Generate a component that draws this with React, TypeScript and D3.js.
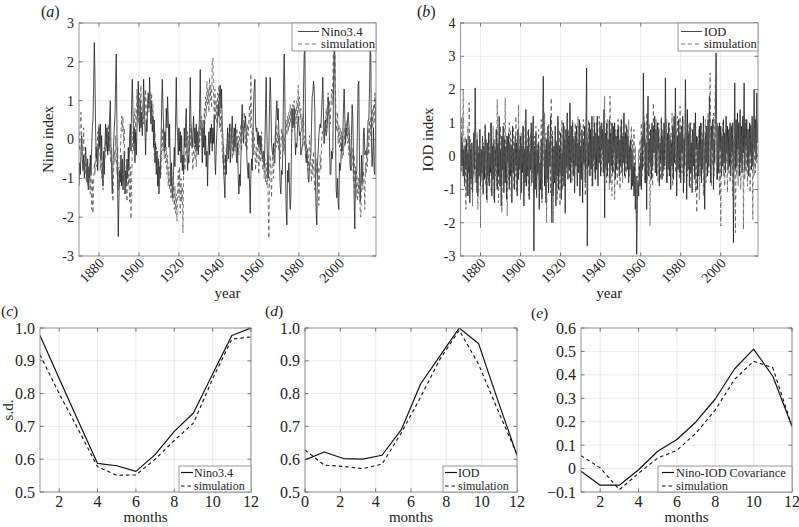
import React from 'react';
import * as d3 from 'd3';

// ---------------- data ----------------
const START_YEAR = 1870;
const SAMPLES_PER_YEAR = 3;

// Observed Nino3.4 index (approx., 3 samples per year, 1870-2018)
const nino34 = [
  -1.2,-.6,-.9, -.3,.1,-.5, -.8,-.4,-1.0, -.6,-.2,-.8, -1.1,-.5,-1.3, -.7,-1.0,-.4, -.9,-.2,.3, .5,1.4,2.5, 1.6,.2,-.5, -.2,-.8,-.3,
  .3,-.2,.4, -.5,.1,-.8, -1.2,-.3,-.9, -.1,.4,-.2, .3,-.4,.2, -.3,.6,1.0, -.2,-.9,-1.4, -.6,-.1,.3, .6,1.5,2.2, .2,-1.3,-2.5,
  -1.5,-.8,-1.1, -.4,-1.2,-.5, -1.3,-.9,-.3, -1.4,-.8,-1.2, -.5,-1.0,-.2, -.8,.1,.4, -.3,.9,1.55, .8,-.1,.3, -.6,.2,-.4, .2,.9,1.5,
  .6,.2,1.0, .3,.7,.1, .6,1.55,1.0, .3,-.4,.5, .2,.9,1.2, .8,1.6,.9, .4,1.0,.2, .6,-.2,.5, -.6,-.1,-.9, -.3,-1.2,-.5,
  -1.4,-.7,-1.0, -.2,.8,1.55, .9,.3,-.3, .2,-.2,.8, .3,1.1,.5, -.2,.4,-.6, -1.2,-.6,-1.5, -1.3,-.8,-.2, -.7,.5,1.6, .4,.1,-.4,
  .3,-.3,.2, -.6,.1,-.8, -.4,-.9,.3, -.2,.4,.8, -.3,-.8,-.4, -.6,.5,1.6, .5,.1,-.2, .2,.6,-.1, .3,-.2,.4, -.3,.2,-.4,
  .1,.8,1.8, .4,.2,-.6, .3,-.2,.5, -.4,.1,-.7, -.3,-1.2,-.2, .2,-.4,.3, -.1,.4,-.3, .3,-.1,.6, -.5,-.9,-.2, .2,.5,.9,
  .6,1.2,1.4, .8,1.3,.3, .1,-.8,-1.1, -1.5,-.4,-.9, -.2,.3,-.5, -.1,.4,-.6, -.3,.2,.6, .1,-.3,.3, -.2,.4,-.4, -.6,-.1,-1.0,
  -1.4,-.9,-1.2, -.5,.5,.9, .2,-.1,.4, .3,.6,.2, -.5,-.8,-1.0, -.6,-1.2,-1.9, -.9,-.5,-.8, -.1,.9,1.3, 1.55,.4,.2, .3,-.1,.2,
  -.2,.1,-.3, .1,-.2,-.5, -.4,-.3,-.7, -.1,.8,1.6, .2,-.7,-1.0, -.3,.9,1.6, 1.0,-.1,-.3, -.4,-.1,-.6, -.6,.2,.7, 1.0,.5,.8,
  .2,-.6,-1.2, -1.4,-.8,-.9, -.2,1.3,2.2, 1.2,-.9,-1.8, -2.2,-.8,-1.1, -.6,-1.3,-1.8, -1.5,-.1,.8, .3,.4,.8, .2,-.4,-.1, -.2,.3,.6,
  .4,.1,.2, -.4,-.3,-.2, -.1,1.2,2.2, 2.4,.4,-.6, -.3,-.5,-1.0, -1.1,-.7,-.5, -.4,.3,1.1, 1.2,1.5,1.3, .7,-1.2,-1.9, -2.2,-.6,-.3,
  .1,.3,.4, .3,.7,1.1, 1.6,.6,-.1, .2,.5,.1, .2,.5,1.1, .8,-.1,-.9, -.9,-.3,-.5, -.3,1.3,2.3, 2.2,.2,-1.3, -1.5,-1.0,-1.6,
  -1.8,-.6,-.8, -.6,-.1,-.3, .1,.8,1.3, .6,-.1,.3, .1,.5,.7, .4,.1,-.7, -.8,.1,.9, .6,-.5,-1.5, -2.3,-.8,-.9, -.8,.4,1.4,
  1.5,-.6,-1.6, -1.2,-.4,-1.1, -.8,.2,.3, -.4,-.3,-.3, -.4,.1,.5, .5,1.2,2.3, 2.2,-.2,-.7, -.3,.3,-.8, -.9,.1,1.2,
];

// Simulated Nino index
const ninoSim = [
  .2,-.3,.5, .7,.1,-.4, -.2,.3,-.6, -.9,-.3,-1.1, -.5,-1.2,-.7, -1.3,-.6,-1.4, -.8,-1.8,-1.0, -1.9,-1.1,-.6, -.9,-.2,-.7, -.4,.2,-.3,
  .4,-.1,-.8, -.4,-1.0,-.6, -1.3,-.7,-.2, -.5,.1,-.3, .3,-.1,.4, -.2,.1,-.5, -.6,-.2,-1.1, -1.6,-.8,-.3, -.6,.1,-.4, -.9,-.2,-1.3,
  -.7,-1.2,-.4, .1,.6,.2, .6,-.1,.3, -.8,-1.4,-.9, -1.6,-.6,-1.2, -.9,-1.6,-.7, -2.05,-1.0,-.3, .2,-.3,.4, .8,.2,.5, 1.3,.6,.9,
  .4,1.2,.7, 1.4,.5,.2, .9,.4,1.1, .6,1.3,.8, .3,.9,1.2, .7,1.4,1.0, .5,1.2,.4, .9,.1,-.4, .2,-.6,-.2, -.8,-.3,-1.1,
  -.6,-1.2,-.4, -.9,-.2,.3, -.3,.4,-.5, .1,-.6,-.2, -.9,-.4,-1.2, -.7,-1.3,-.9, -1.5,-.8,-1.0, -1.6,-1.1,-1.8, -1.2,-1.9,-1.4, -2.1,-1.3,-.8,
  -1.5,-.7,-1.9, -1.0,-1.6,-1.2, -2.4,-.9,-.4, -.8,-.2,.3, -.4,.2,-.5, .1,-.3,.4, -.2,.3,-.4, -.8,-.3,.1, -.5,-.1,-.7, -.3,.2,-.2,
  .3,-.2,.5, .1,.6,.2, .5,.1,.8, .4,1.1,.6, 1.5,.9,1.3, .7,1.6,1.0, 1.4,.8,2.0, 2.1,1.2,.6, 1.3,.5,1.0, .4,1.2,.7,
  1.4,.3,.9, .2,.6,-.3, -.6,-.1,-.9, -.4,-.8,-.2, -.6,.1,-.4, .2,-.3,.4, -.1,.3,-.5, .1,-.4,.2, -.3,.1,-.2, .3,-.2,.1,
  -.4,.2,-.1, .4,-.3,.2, .5,.1,.7, .2,-.2,.3, -.3,.4,.1, .5,.9,.3, 1.7,.6,-.2, .3,-.4,.1, -.3,-.8,-.2, -.6,.1,-.4,
  -.9,-.3,-.6, -.2,.2,-.5, -.8,-.3,-1.0, -.5,-1.1,-.6, -1.2,-.7,-1.5, -2.55,-1.0,-.4, -.9,-1.5,-.6, -.3,-1.0,-.5, -.1,.3,-.2, .4,-.1,.2,
  -.3,.1,-.5, -.2,.3,-.1, .2,-.3,.1, -.4,.3,.5, .1,.6,.2, .7,.3,.9, .4,.8,.2, .9,.5,1.0, .3,.8,.4, 1.0,.6,1.4,
  .7,1.1,.5, .8,.2,.6, .3,.7,-.2, .1,-.5,-.1, -.6,-.2,-.8, -.4,.1,-.3, -.7,-1.1,-.5, -.9,-.3,-1.0, -1.3,-.6,-.9, -.5,-1.2,-.7,
  -1.7,-1.0,-.4, -.8,-.1,.2, .1,.4,-.1, .5,.2,.8, .3,.9,1.2, .6,1.0,.4, .8,1.3,.9, 1.6,2.4,1.5, 2.3,1.1,.5, .2,.7,-.1,
  .4,-.2,.3, -.3,.2,-.5, .1,-.4,.3, -.2,.4,.1, .5,-.1,.3, -.4,.2,-.6, -.3,-.8,-.2, -.6,-1.1,-.4, -1.3,-.7,-1.5, -.9,-1.6,-1.0,
  -1.4,-.7,-1.8, -2.0,-1.1,-.6, -1.3,-.8,-1.1, -1.8,-.6,-.9, -.2,-.7,.3, -.4,.5,.1, .6,-.2,.8, .3,.9,.4, 1.2,.5,1.0,
];

// Observed IOD index
const iod = [
  -.8,.6,-.3, .4,-.6,.2, -.9,.3,-.4, .5,-1.2,.1, -.5,.6,-1.4, .2,-.7,.4, -1.1,-.2,.7, -.4,2.05,.3, -.8,.5,-1.2, .1,-.6,.8,
  -.9,.2,-.5, .6,-1.1,.3, -.7,.9,-.2, -1.3,.4,-.6, .7,-.9,.1, -.5,1.0,-1.2, .3,-.7,.5, -1.4,.2,-.3, .8,-1.0,.4, -.6,1.2,-.9,
  .2,-1.5,.6, -.4,.9,-1.1, .5,-.8,.3, -1.3,.6,-.2, .7,-1.0,.4, -.6,.3,-1.4, .9,-.5,.2, -1.0,.6,-.3, .4,-1.2,.8, -.7,.2,-.4,
  .6,-1.1,.3, -.5,.9,-1.5, .2,-.8,1.4, -.9,.3,-.6, .8,-1.3,.1, -.4,1.0,-.8, .5,1.2,-2.85, .3,-1.0,.7, -1.2,.2,-.5, .4,-1.6,-.2,
  -1.0,.5,-1.3, .3,2.4,.6, -.9,.2,-1.4, .5,-.7,.9, -1.1,.4,-.3, 1.2,-.9,-2.0, .6,-1.2,.3, -.8,.9,-1.5, .4,-.6,1.2, -1.0,.3,-.5,
  .7,-1.3,.1, -.6,1.0,-.9, .5,-1.7,.8, -.3,1.3,-.7, .6,-.4,1.6, -.8,.9,-.2, 1.0,-.6,.5, -1.1,.7,-.3, .9,-.9,.4, -.5,1.1,-1.2,
  .3,-.7,.8, -1.4,.5,-.2, .9,-.8,1.0, 2.65,-2.7,.4, -.3,1.0,-.6, .8,-.4,1.2, -.9,.6,-.1, 1.0,-.7,.7, -.4,1.2,-.9, .6,-.2,.9,
  -.6,1.0,.2, .8,-.5,1.4, -1.85,.7,-.3, 1.0,-.6,.5, -.2,1.1,-.8, .7,-.3,1.0, -.5,.9,.1, 1.0,-.7,.6, -.4,.8,-.1, .9,-.6,.5,
  -.3,1.1,-.5, .6,-.2,1.3, -.6,.7,-.1, .9,-.4,.6, -.8,.3,-.4, .5,-1.0,.2, -.9,-.3,-1.2, -.2,-1.6,-.6, -2.95,-1.4,-.8, -1.2,-.3,-.9,
  .1,-1.0,.6, -.4,2.5,.3, 1.0,-.8,.4, -1.6,.7,1.8, -.6,.5,-.2, .8,-.7,1.0, -.3,.9,.1, 1.2,-.5,.8, -.6,1.0,.2, .8,-.9,.4,
  -.2,1.1,-.7, .6,-.4,1.0, -.3,2.35,.5, -.8,.7,-.4, 1.0,-.6,.5, -1.0,.4,-.3, .9,-.7,1.2, -.2,2.05,.3, -1.2,.6,-.4, 1.1,-.5,.7,
  -.8,.9,.1, 1.2,-1.1,.5, -.3,2.3,.8, -1.3,1.4,-.4, .7,-.9,1.0, -.5,.4,-1.1, .8,-.3,1.0, -.7,1.3,.2, .6,-1.0,.4, -.6,.9,-.3,
  1.0,-.8,.5, -.4,1.2,.1, -1.6,.7,-.2, .9,-.6,1.1, -.3,1.8,.6, -.8,.9,.2, 1.1,-1.0,.5, -.2,1.4,3.1, .6,-.7,.9, -.5,1.0,.2,
  .9,-.6,.6, -.3,1.1,-.2, .7,-.5,1.2, .1,.9,-.4, .8,-.3,1.0, -.6,.9,.1, 1.0,-2.6,.5, 2.2,-.4,1.1, -.3,1.3,.2, 1.0,-.6,1.4,
  -.2,.9,-.5, 1.2,.1,2.2, -.4,1.0,.3, 1.1,-.3,.8, -.6,1.0,.1, .9,-.4,1.2, -.3,.6,2.0, .2,1.1,-.1, 1.9,.4,1.0,
];

// Simulated IOD index
const iodSim = [
  .3,-.5,1.2, -.2,2.0,.4, -.9,.6,-1.6, .2,-.4,.9, -1.2,1.6,-.3, .5,-1.0,.3, -1.5,.4,-.6, .8,-.8,.2, -1.1,.7,-1.6, .3,-.5,.8,
  -2.15,.2,-.7, .6,-1.2,.4, -.4,1.0,-.9, .5,-1.4,.2, -.8,.7,-.3, 1.0,-1.1,.4, -.5,.9,-1.3, .3,-.6,.8, -.9,1.7,.2, -1.4,.5,-.6,
  .9,-.3,-1.7, .4,-.9,1.0, -.5,1.75,-.2, .6,-1.8,.3, -.7,1.0,-.4, .8,-1.2,.5, -.3,.9,-1.0, .4,-.6,1.2, -1.1,.3,-.5, 1.55,-.4,.6,
  -1.3,.7,-.2, .9,-1.0,.3, -.6,1.1,-.9, .5,-.3,.8, -1.2,.6,-.4, .7,-.9,.2, -.5,1.0,-1.1, .6,-.2,.9, -1.3,.4,-.6, .8,-1.0,.3,
  -.7,1.1,-1.4, .5,1.9,-.3, 1.3,-.6,.7, -2.0,.4,-.8, 1.0,-.3,.6, -1.1,1.75,-.5, .8,-2.0,.3, -.7,.9,-.2, .5,-1.3,1.0, -.4,.8,-1.5,
  .6,-.3,1.1, -1.0,.7,-.6, .9,-1.75,.4, -.5,1.2,-.2, .8,-.7,1.4, -.3,.9,-.8, 1.1,-.4,.6, -.9,1.0,.1, .7,-.6,1.2, -.4,.8,-1.0,
  1.0,-.2,.6, -.7,1.1,-.3, .5,-1.2,.9, -.4,.7,-.1, 1.1,-.6,.5, -.2,1.0,-.9, .8,-.3,1.2, -.5,.6,.1, 1.0,-.7,.5, -.3,1.2,-.2,
  .7,-.5,1.0, -.1,.9,-.6, 1.8,-.4,.6, -.8,1.1,-.2, .5,-1.0,1.8, -.3,.7,-1.2, 1.0,-.5,.4, -1.3,.8,-.2, .6,-.9,1.1, -.4,.5,-1.0,
  .9,-.3,.7, -.8,1.2,-.1, .6,-.7,1.0, -.5,.8,-.3, 1.1,-.6,.4, -.2,.9,-.7, .5,-.4,.8, -1.0,.3,-1.4, -2.3,-.6,-1.1, .2,-.9,.5,
  -.4,1.0,-.6, .7,-.3,1.2, -.8,.5,-.2, 1.3,-.7,.4, -.5,1.0,-2.1, .6,-.4,.9, -.9,1.6,.1, .7,-.5,1.1, -.2,.8,-.8, 1.0,-.3,.6,
  -.7,1.2,.2, .8,-.6,1.0, -.4,.9,-.1, 1.1,-.8,.5, -.3,1.0,-.6, .7,-.2,1.3, -.9,.6,.1, 1.0,-.5,.8, -.4,1.2,-.2, .9,-.7,1.5,
  -.3,.8,-.5, 1.1,-.2,.6, -.8,1.5,.3, .7,-.6,1.0, -.3,.9,-1.0, 1.0,-.4,.5, -.8,.7,-.1, .9,-1.1,.4, -1.7,.6,-.5, .8,-1.3,.2,
  -.6,1.0,-.3, .7,-1.2,.5, -.4,1.1,-.8, .9,-.2,1.3, -.5,.8,2.5, .4,-.9,1.0, -.3,1.3,-.6, .8,2.3,.2, -.7,1.0,-.2, .6,-1.2,.4,
  -2.1,.7,-.3, 1.0,-.6,.5, -.9,.8,-.2, .6,-1.1,.3, -.5,.9,-.8, .7,-.3,1.0, -1.2,.5,-.4, .8,-2.3,.2, -.6,1.0,-.9, .5,-.4,1.1,
  -1.0,.6,-.2, .9,-2.2,.3, -.7,1.1,-.5, .6,-.9,.8, -.4,.7,-1.1, 1.0,-.3,.5, -1.9,.8,-.6, .9,-.5,1.2, -.2,.7,.4,
];

// Seasonal statistics
const monthsNino = [1, 2, 3, 4, 5, 6, 7, 8, 9, 10, 11, 12];
const ninoSd = [0.977, 0.846, 0.716, 0.587, 0.58, 0.563, 0.614, 0.685, 0.741, 0.86, 0.977, 1.0];
const ninoSdSim = [0.918, 0.8, 0.69, 0.577, 0.551, 0.552, 0.6, 0.657, 0.71, 0.845, 0.966, 0.973];
const monthsIod = [0, 1.09, 2.18, 3.27, 4.36, 5.45, 6.55, 7.64, 8.73, 9.82, 10.91, 12];
const iodSd = [0.598, 0.622, 0.602, 0.6, 0.612, 0.69, 0.83, 0.915, 1.0, 0.953, 0.78, 0.612];
const iodSdSim = [0.628, 0.582, 0.578, 0.571, 0.585, 0.68, 0.79, 0.905, 0.993, 0.89, 0.75, 0.615];
const monthsCov = [1, 2, 3, 4, 5, 6, 7, 8, 9, 10, 11, 12];
const covObs = [-0.011, -0.071, -0.071, -0.005, 0.074, 0.124, 0.2, 0.297, 0.425, 0.51, 0.394, 0.18];
const covSim = [0.055, 0.003, -0.09, -0.02, 0.045, 0.078, 0.152, 0.25, 0.38, 0.458, 0.43, 0.18];

const yearTicks = [1880, 1900, 1920, 1940, 1960, 1980, 2000];
const ninoTicks = [-3, -2, -1, 0, 1, 2, 3];
const iodTicks = [-3, -2, -1, 0, 1, 2, 3, 4];
const sdTicks = [0.5, 0.6, 0.7, 0.8, 0.9, 1.0];
const monthTicksC = [2, 4, 6, 8, 10, 12];
const monthTicksD = [0, 2, 4, 6, 8, 10, 12];
const covTicks = [-0.1, 0, 0.1, 0.2, 0.3, 0.4, 0.5, 0.6];

// ---------------- drawing ----------------
const FONT = "'Liberation Serif', 'DejaVu Serif', 'Noto Serif', serif";
const FRAME = '#8a8a8a';
const GRID = '#e6e6e6';

type Series = { xs: number[]; ys: number[]; color: string; width: number; dash?: string };
type LegendItem = { label: string; color: string; width: number; dash?: string };

type PanelProps = {
  id: string;
  left: number; right: number; top: number; bottom: number;
  xDomain: [number, number]; yDomain: [number, number];
  xTicks: number[]; yTicks: number[];
  xFmt: (v: number) => string; yFmt: (v: number) => string;
  rotateX?: boolean;
  tickFont: number;
  series: Series[];
  legend: { x: number; y: number; w: number; h: number; s1: number; s2: number; tx: number; rows: number[]; font: number; items: LegendItem[] };
  xLabel: string; xLabelY: number;
  yLabel: string; yLabelX: number;
  letter: string; letterX: number; letterY: number; letterSize: number;
};

function Panel(p: PanelProps) {
  const x = d3.scaleLinear().domain(p.xDomain).range([p.left, p.right]);
  const y = d3.scaleLinear().domain(p.yDomain).range([p.bottom, p.top]);
  const TL = 3.5;
  const tf = { fontFamily: FONT };
  return (
    <g style={tf}>
      <defs>
        <clipPath id={'clip-' + p.id}>
          <rect x={p.left} y={p.top} width={p.right - p.left} height={p.bottom - p.top} />
        </clipPath>
      </defs>
      <rect x={p.left} y={p.top} width={p.right - p.left} height={p.bottom - p.top} fill="#fff" />
      {p.xTicks.map((t) => (
        <line key={'gx' + t} x1={x(t)} x2={x(t)} y1={p.top} y2={p.bottom} stroke={GRID} strokeWidth={0.8} />
      ))}
      {p.yTicks.map((t) => (
        <line key={'gy' + t} x1={p.left} x2={p.right} y1={y(t)} y2={y(t)} stroke={GRID} strokeWidth={0.8} />
      ))}
      <g clipPath={`url(#clip-${p.id})`}>
        {p.series.map((s, i) => {
          const pts: [number, number][] = s.xs.map((v, k) => [v, s.ys[k]]);
          const line = d3.line<[number, number]>().x((d) => x(d[0])).y((d) => y(d[1]));
          return (
            <path key={i} d={line(pts) || ''} fill="none" stroke={s.color} strokeWidth={s.width}
              strokeDasharray={s.dash} strokeLinejoin="round" />
          );
        })}
      </g>
      <rect x={p.left} y={p.top} width={p.right - p.left} height={p.bottom - p.top} fill="none" stroke={FRAME} strokeWidth={0.9} />
      {p.xTicks.map((t) => (
        <g key={'tx' + t}>
          <line x1={x(t)} x2={x(t)} y1={p.bottom} y2={p.bottom - TL} stroke="#555" strokeWidth={0.8} />
          <line x1={x(t)} x2={x(t)} y1={p.top} y2={p.top + TL} stroke="#555" strokeWidth={0.8} />
        </g>
      ))}
      {p.yTicks.map((t) => (
        <g key={'ty' + t}>
          <line x1={p.left} x2={p.left + TL} y1={y(t)} y2={y(t)} stroke="#555" strokeWidth={0.8} />
          <line x1={p.right} x2={p.right - TL} y1={y(t)} y2={y(t)} stroke="#555" strokeWidth={0.8} />
        </g>
      ))}
      {p.xTicks.map((t) =>
        p.rotateX ? (
          <text key={'lx' + t} style={tf} transform={`translate(${x(t) + 6},${p.bottom + 8}) rotate(-45)`}
            textAnchor="end" fontSize={p.tickFont} fill="#222">{p.xFmt(t)}</text>
        ) : (
          <text key={'lx' + t} style={tf} x={x(t)} y={p.bottom + 15} textAnchor="middle" fontSize={p.tickFont} fill="#222">{p.xFmt(t)}</text>
        )
      )}
      {p.yTicks.map((t) => (
        <text key={'ly' + t} style={tf} x={p.left - 5} y={y(t)} dy="0.35em" textAnchor="end" fontSize={p.tickFont} fill="#222">{p.yFmt(t)}</text>
      ))}
      <g>
        <rect x={p.legend.x} y={p.legend.y} width={p.legend.w} height={p.legend.h} fill="#fff" stroke={FRAME} strokeWidth={0.9} />
        {p.legend.items.map((it, i) => (
          <g key={'lg' + i}>
            <line x1={p.legend.s1} x2={p.legend.s2} y1={p.legend.rows[i]} y2={p.legend.rows[i]} stroke={it.color}
              strokeWidth={it.width} strokeDasharray={it.dash} />
            <text style={tf} x={p.legend.tx} y={p.legend.rows[i]} dy="0.35em" fontSize={p.legend.font} fill="#222">{it.label}</text>
          </g>
        ))}
      </g>
      <text style={tf} x={(p.left + p.right) / 2} y={p.xLabelY} textAnchor="middle" fontSize={15} fill="#222">{p.xLabel}</text>
      {p.yLabel ? (
        <text style={tf} transform={`translate(${p.yLabelX},${(p.top + p.bottom) / 2}) rotate(-90)`} textAnchor="middle" fontSize={15} fill="#222">{p.yLabel}</text>
      ) : null}
      <text style={tf} x={p.letterX} y={p.letterY} fontSize={p.letterSize} fill="#222">(<tspan fontStyle="italic">{p.letter}</tspan>)</text>
    </g>
  );
}

const timeAxis = (n: number) => d3.range(n).map((i) => START_YEAR + i / SAMPLES_PER_YEAR);
const intFmt = (v: number) => String(v);
const oneDec = d3.format('.1f');
const covFmt = (v: number) => (v === 0 ? '0' : v < 0 ? '\u2212' + oneDec(-v) : oneDec(v));

export default function App() {
  const tN = timeAxis(nino34.length);
  const tNs = timeAxis(ninoSim.length);
  const tI = timeAxis(iod.length);
  const tIs = timeAxis(iodSim.length);
  const solidTS = { color: '#1e1e1e', width: 0.8 };
  const dashTS = { color: '#555', width: 0.8, dash: '4,3' };
  const solidS = { color: '#111', width: 1.2 };
  const dashS = { color: '#111', width: 1.1, dash: '3.5,3' };
  return (
    <svg width={799} height={527} style={{ position: 'absolute', left: 0, top: 0, background: '#fff', fontFamily: FONT }}>
      <rect x={0} y={0} width={799} height={527} fill="#fff" />
      <Panel id="a" left={79} right={376} top={23} bottom={256} xDomain={[1870, 2018.6]} yDomain={[-3, 3]}
        xTicks={yearTicks} yTicks={ninoTicks} xFmt={intFmt} yFmt={intFmt} rotateX tickFont={14}
        series={[{ xs: tN, ys: nino34, ...solidTS }, { xs: tNs, ys: ninoSim, ...dashTS }]}
        legend={{ x: 292, y: 23, w: 84, h: 28, s1: 298, s2: 319, tx: 321, rows: [31.5, 44], font: 12.8,
          items: [{ label: 'Nino3.4', ...solidTS }, { label: 'simulation', ...dashTS }] }}
        xLabel="year" xLabelY={298} yLabel="Nino index" yLabelX={53} letter="a" letterX={41} letterY={17} letterSize={16} />
      <Panel id="b" left={460.5} right={758} top={23} bottom={256} xDomain={[1870, 2018.6]} yDomain={[-3, 4]}
        xTicks={yearTicks} yTicks={iodTicks} xFmt={intFmt} yFmt={intFmt} rotateX tickFont={14}
        series={[{ xs: tI, ys: iod, ...solidTS }, { xs: tIs, ys: iodSim, ...dashTS }]}
        legend={{ x: 678, y: 23, w: 80, h: 28, s1: 681, s2: 702, tx: 704, rows: [31.5, 44], font: 12.5,
          items: [{ label: 'IOD', ...solidTS }, { label: 'simulation', ...dashTS }] }}
        xLabel="year" xLabelY={298} yLabel="IOD index" yLabelX={433} letter="b" letterX={417} letterY={17} letterSize={16} />
      <Panel id="c" left={40} right={251} top={328} bottom={492} xDomain={[1, 12]} yDomain={[0.5, 1]}
        xTicks={monthTicksC} yTicks={sdTicks} xFmt={intFmt} yFmt={oneDec} tickFont={16}
        series={[{ xs: monthsNino, ys: ninoSd, ...solidS }, { xs: monthsNino, ys: ninoSdSim, ...dashS }]}
        legend={{ x: 179, y: 466, w: 72, h: 26, s1: 181, s2: 193, tx: 194, rows: [472.5, 486], font: 12,
          items: [{ label: 'Nino3.4', ...solidS }, { label: 'simulation', ...dashS }] }}
        xLabel="months" xLabelY={522} yLabel="s.d." yLabelX={13} letter="c" letterX={1} letterY={316} letterSize={15.5} />
      <Panel id="d" left={305} right={517} top={328} bottom={492} xDomain={[0, 12]} yDomain={[0.5, 1]}
        xTicks={monthTicksD} yTicks={sdTicks} xFmt={intFmt} yFmt={oneDec} tickFont={16}
        series={[{ xs: monthsIod, ys: iodSd, ...solidS }, { xs: monthsIod, ys: iodSdSim, ...dashS }]}
        legend={{ x: 443, y: 466, w: 74, h: 26, s1: 445, s2: 457, tx: 458, rows: [472.5, 486], font: 12,
          items: [{ label: 'IOD', ...solidS }, { label: 'simulation', ...dashS }] }}
        xLabel="months" xLabelY={522} yLabel="" yLabelX={280} letter="d" letterX={265} letterY={316} letterSize={15.5} />
      <Panel id="e" left={581} right={792} top={328} bottom={492} xDomain={[1, 12]} yDomain={[-0.1, 0.6]}
        xTicks={monthTicksC} yTicks={covTicks} xFmt={intFmt} yFmt={covFmt} tickFont={16}
        series={[{ xs: monthsCov, ys: covObs, ...solidS }, { xs: monthsCov, ys: covSim, ...dashS }]}
        legend={{ x: 658, y: 466, w: 134, h: 26, s1: 662, s2: 674, tx: 676, rows: [472.5, 486], font: 12.3,
          items: [{ label: 'Nino-IOD Covariance', ...solidS }, { label: 'simulation', ...dashS }] }}
        xLabel="months" xLabelY={522} yLabel="" yLabelX={550} letter="e" letterX={531} letterY={318} letterSize={15.5} />
    </svg>
  );
}
